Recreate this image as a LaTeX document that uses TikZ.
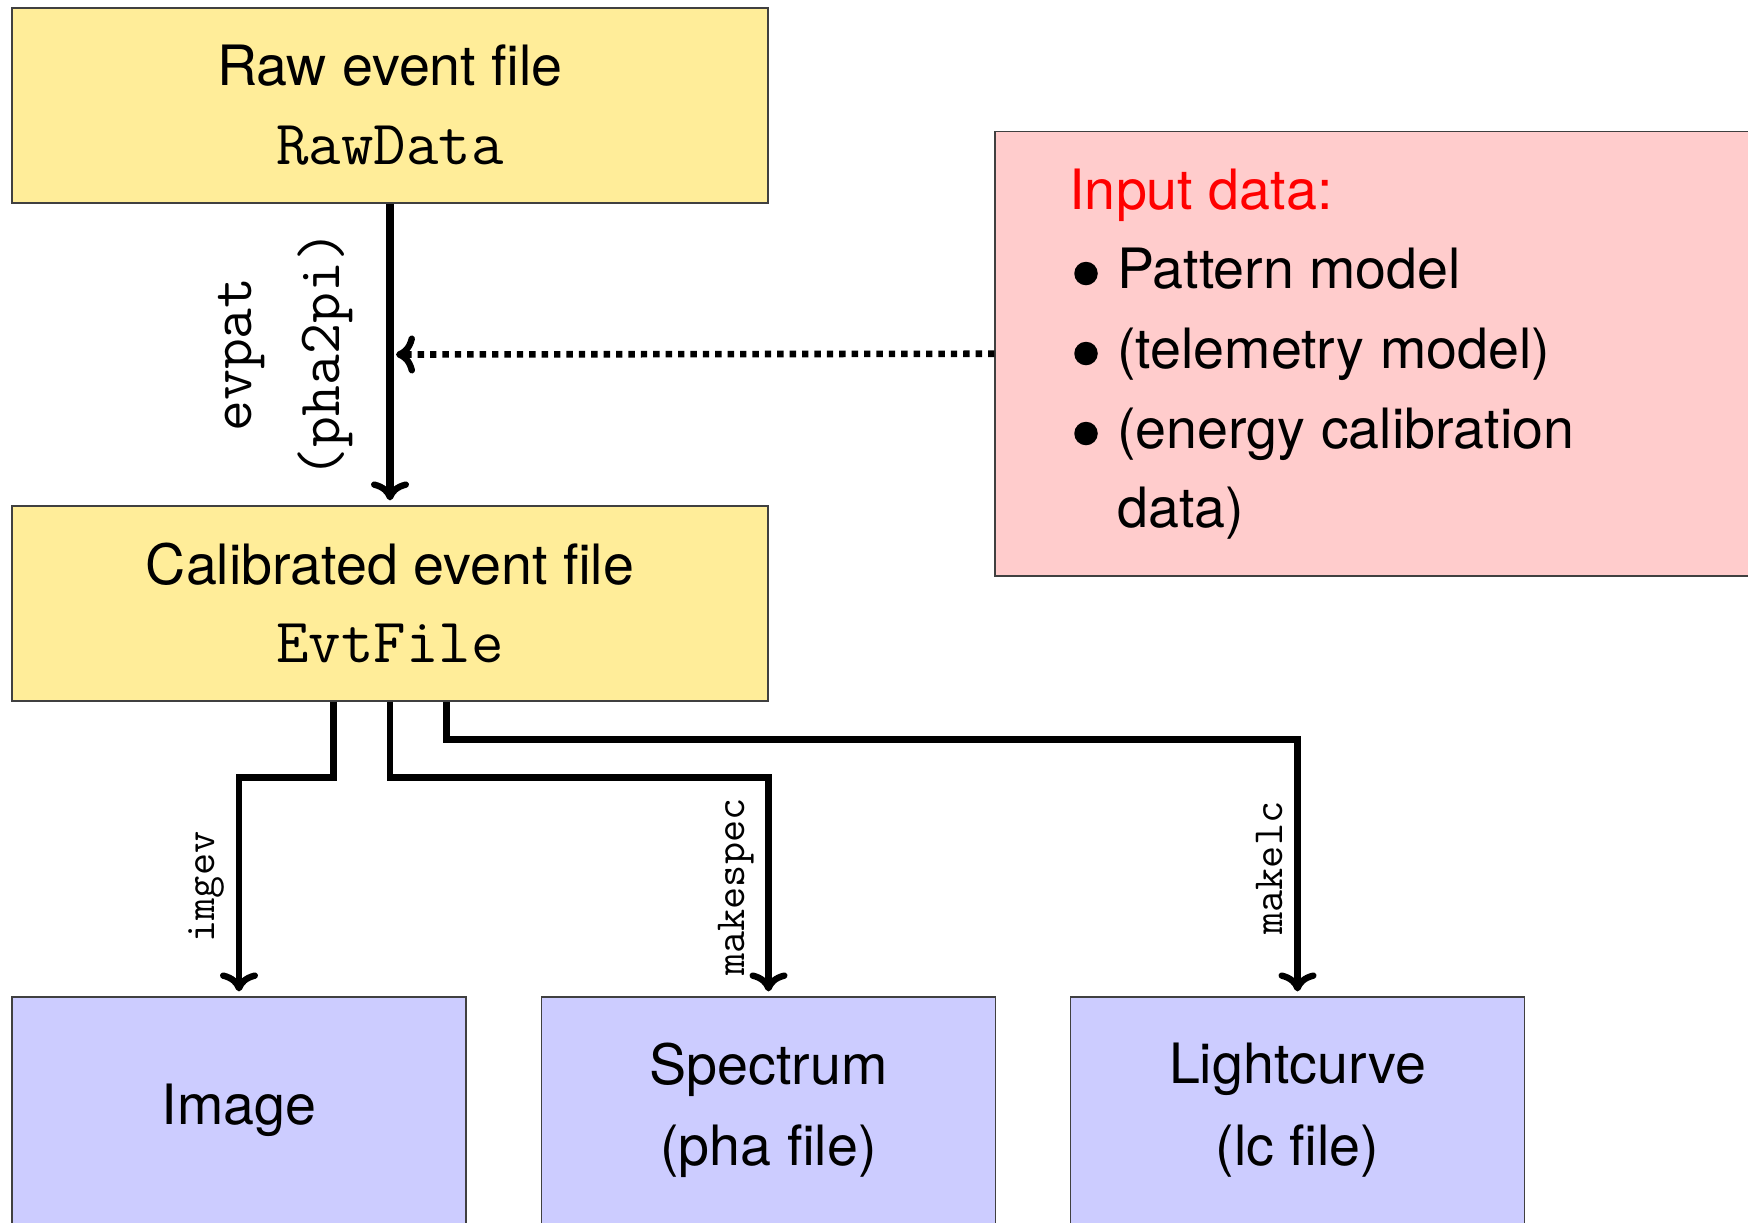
\documentclass[tikz,border=0pt]{standalone}
\usepackage{fontspec}
\setmainfont{TeX Gyre Heros}
\usetikzlibrary{arrows.meta,calc}

\definecolor{evtyellow}{RGB}{255,237,153}
\definecolor{inpink}{RGB}{255,204,204}
\definecolor{prodblue}{RGB}{204,204,255}

\newcommand{\bigsf}{\fontsize{27.8}{32}\selectfont}
\newcommand{\bigtt}{\fontsize{31.5}{36}\selectfont\ttfamily}
\newcommand{\midtt}{\fontsize{30}{44}\selectfont\ttfamily}
\newcommand{\smalltt}{\fontsize{21.5}{26}\selectfont\ttfamily}

\begin{document}
\begin{tikzpicture}[x=0.5pt,y=-0.5pt,
  filebox/.style={draw=black!75, line width=0.6pt, fill=#1, inner sep=0pt},
  cmtip/.style={-{Computer Modern Rightarrow[round,length=9.5pt,width=19pt,line width=3.2pt]}},
  flow/.style={line width=3.4pt, cmtip, shorten >=2.5pt},
  feed/.style={line width=3.3pt, dash pattern=on 3.2pt off 3pt, cmtip, shorten >=3pt},
  boxtext/.style={anchor=base, inner sep=0pt, font=\bigsf},
  boxcode/.style={anchor=base, inner sep=0pt, font=\bigtt},
  listtext/.style={anchor=base west, inner sep=0pt, font=\bigsf},
  dot/.style={circle, fill=black, inner sep=0pt, minimum size=11.75pt},
  tool/.style={rotate=90, anchor=south, inner xsep=0pt, inner ysep=5.5pt, font=\smalltt}
]
\useasboundingbox (0,0) rectangle (1748,1222);
\clip (0,0) rectangle (1748,1222);

% event files
\node[filebox=evtyellow, minimum width=378pt, minimum height=97.5pt] (raw) at (390,105.5) {};
\node[filebox=evtyellow, minimum width=378pt, minimum height=97.5pt] (cal) at (390,603.5) {};
\node[boxtext] (rawtitle) at (390,85) {Raw event file};
\node[boxcode] (rawname) at (390,164) {RawData};
\node[boxtext] (caltitle) at (390,584) {Calibrated event file};
\node[boxcode] (calname) at (390,662) {EvtFile};

% calibration inputs
\node[filebox=inpink, minimum width=402.5pt, minimum height=222.25pt] (inp) at (1397.5,353.75) {};
\node[listtext, text=red] (inhead) at (1069,209) {Input data:};
\node[dot] (b1) at (1086,273.5) {};
\node[listtext] (i1) at (1117,288) {Pattern model};
\node[dot] (b2) at (1086,353.5) {};
\node[listtext] (i2) at (1117,368) {(telemetry model)};
\node[dot] (b3) at (1086,433.5) {};
\node[listtext] (i3) at (1117,448) {(energy calibration};
\node[listtext] (i3b) at (1117,527) {data)};

% data products
\node[filebox=prodblue, minimum width=227pt, minimum height=126.5pt] (img) at (239,1123.5) {};
\node[filebox=prodblue, minimum width=227pt, minimum height=126.5pt] (spec) at (768.5,1123.5) {};
\node[filebox=prodblue, minimum width=227pt, minimum height=126.5pt] (lc) at (1297.5,1123.5) {};
\node[boxtext] (imgtext) at (239,1124) {Image};
\node[boxtext] (spectext) at (768.5,1084.6) {Spectrum};
\node[boxtext] (specfile) at (768.5,1165) {(pha file)};
\node[boxtext] (lctext) at (1297.5,1083.6) {Lightcurve};
\node[boxtext] (lcfile) at (1297.5,1165) {(lc file)};

% calibration step
\coordinate (hit) at ($(raw.south)!0.5!(cal.north)$);
\draw[flow, line width=3.7pt] (raw.south) -- (cal.north);
\node[rotate=90, anchor=south, inner xsep=0pt, inner ysep=18.5pt, align=center, font=\midtt]
  (evpat) at (hit) {evpat\\(pha2pi)};
\draw[feed] (inp.west) -- (hit);

% product extraction
\draw[flow] ([xshift=-28.25pt]cal.south) -- ++(0,76) -| (img.north)
  node[tool, pos=0.75] (imgev) {imgev};
\draw[flow] (cal.south) -- ++(0,76) -| (spec.north)
  node[tool, pos=0.75] (makespec) {makespec};
\draw[flow] ([xshift=28.25pt]cal.south) -- ++(0,38) -| (lc.north)
  node[tool, pos=0.75] (makelc) {makelc};
\end{tikzpicture}
\end{document}
